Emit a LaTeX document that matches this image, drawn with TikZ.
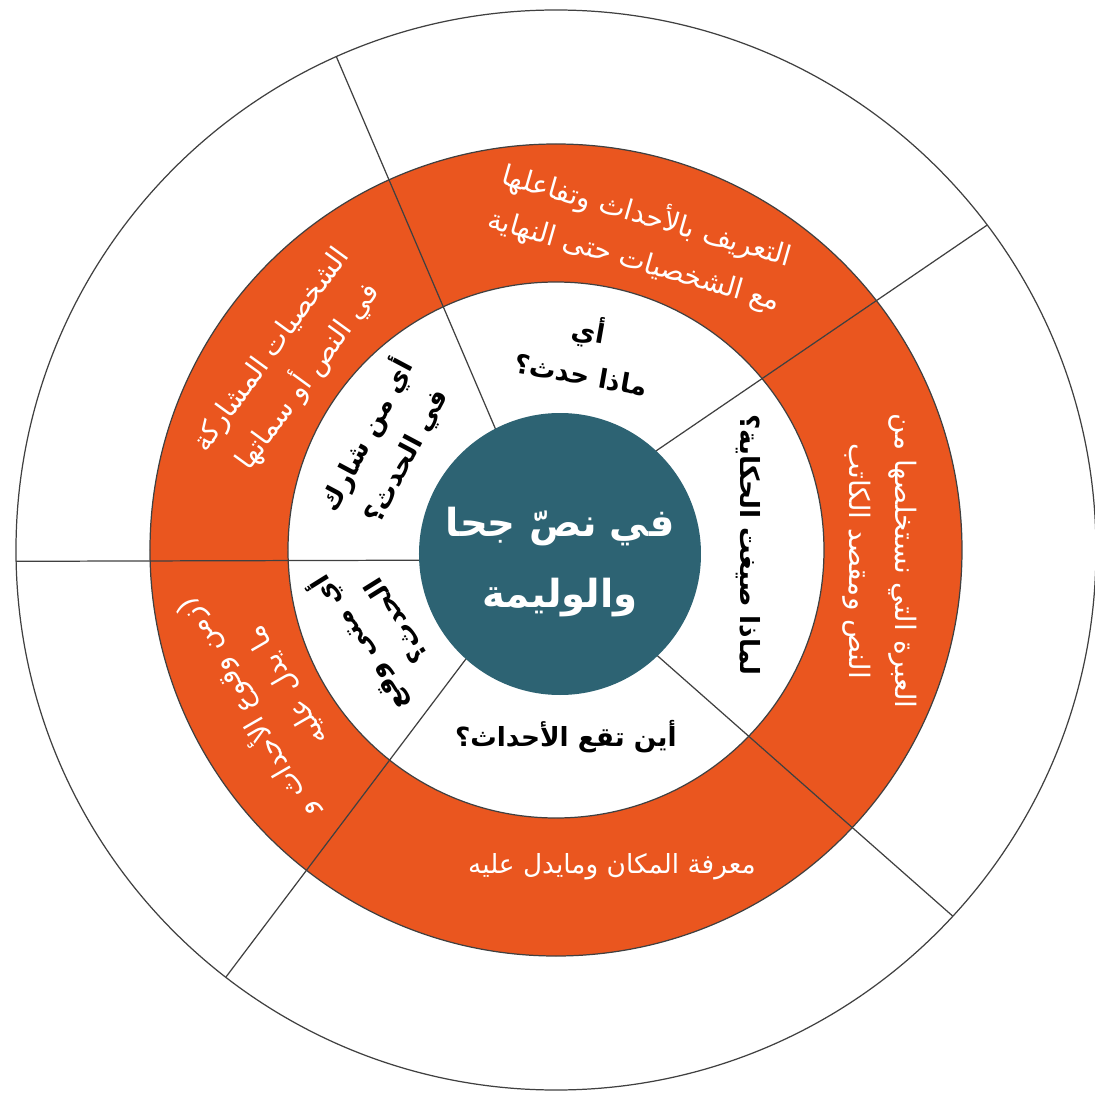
\documentclass[tikz,border=0pt]{standalone}
\usepackage{fontspec}
\newfontfamily\arabicfont[Script=Arabic]{DejaVu Sans}
\TeXXeTstate=1
\newcommand{\artext}[1]{\beginR #1\endR}
\definecolor{ringorange}{RGB}{234,86,31}
\definecolor{hubteal}{RGB}{45,99,115}

\begin{document}
\begin{tikzpicture}[x=0.02cm,y=0.02cm,
  ringline/.style={draw=black!75,line width=0.7pt},
  outerlbl/.style={text=white,font=\arabicfont\fontsize{16}{26}\selectfont,align=center},
  innerlbl/.style={text=black,font=\arabicfont\bfseries\fontsize{15}{25}\selectfont,align=center},
  hublbl/.style={text=white,font=\arabicfont\bfseries\fontsize{22}{40}\selectfont,align=center}]
\useasboundingbox (-556,-546) rectangle (539,550);
\coordinate (c) at (0,0);
\draw[ringline] (c) circle[radius=540];
\draw[ringline,fill=ringorange] (c) circle[radius=406];
\draw[ringline,fill=white] (c) circle[radius=268];
\foreach \a/\b in {116.7/114, 45.6/37, -46.8/-42.7, 230.2/232.3, 184.5/181.2}
  \draw[ringline] (\a:130) -- (\b:540);
\fill[hubteal] (4,-4) circle[radius=141];

\node[hublbl] (hub) at (4,-12) {\artext{في نصّ جحا}\\\artext{والوليمة}};

\node[outerlbl,rotate=-16] (events) at (74.8:324) {\artext{التعريف بالأحداث وتفاعلها}\\\artext{مع الشخصيات حتى النهاية}};
\node[outerlbl,rotate=-90] (lesson) at (-2:324) {\artext{العبرة التي نستخلصها من}\\\artext{النص ومقصد الكاتب}};
\node[outerlbl,font=\arabicfont\fontsize{15}{26}\selectfont] (place) at (-80:322) {\artext{معرفة المكان ومايدل عليه}};
\node[outerlbl,rotate=120] (time) at (207:327) {\artext{(زمن وقوع الأحداث و}\\\artext{ما يدل عليه}};
\node[outerlbl,rotate=54] (people) at (145:324) {\artext{الشخصيات المشاركة}\\\artext{في النص أو سماتها}};

\node[innerlbl,rotate=-10] (what) at (81.7:202) {\artext{أي}\\\artext{ماذا حدث؟}};
\node[innerlbl,rotate=62] (who) at (148.4:200) {\artext{أي من شارك}\\\artext{في الحدث؟}};
\node[innerlbl,rotate=-90] (why) at (1.5:192) {\artext{لماذا صيغت الحكاية؟}};
\node[innerlbl] (where) at (-87:187) {\artext{أين تقع الأحداث؟}};
\node[innerlbl,rotate=122] (when) at (205:200) {\artext{أي متى وقع}\\\artext{الحدث؟}};
\end{tikzpicture}
\end{document}
